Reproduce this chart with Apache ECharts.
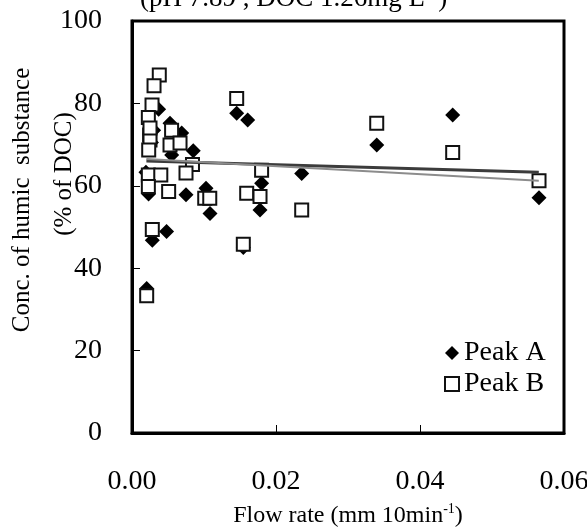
<!DOCTYPE html>
<html>
<head>
<meta charset="utf-8">
<script src="https://cdn.jsdelivr.net/npm/echarts@6/dist/echarts.min.js"></script>
<style>html,body{margin:0;padding:0;background:#fff;}#c{width:587px;height:529px;}</style>
</head>
<body>
<div id="c"></div>
<script>
// Peak A (filled diamonds)
var peakAFlow = [0.00204,0.00282,0.0048,0.00528,0.0069,0.00851,0.00551,0.0075,0.01028,0.01083,0.0037,0.00194,0.0023,0.01454,0.01607,0.018,0.01778,0.02357,0.03399,0.04454,0.05653,0.01546,0.0027,0.003];
var peakAConc = [35.1,46.8,48.9,75.2,72.8,68.5,67.5,57.8,59.4,53.3,78.6,63.3,58,77.6,76,60.6,54.1,63,69.9,77.2,57.1,45,70.5,73.5];
// Peak B (open squares)
var peakBFlow = [0.00379,0.00306,0.00278,0.00227,0.0055,0.00528,0.00667,0.0084,0.0075,0.00227,0.004,0.00227,0.00509,0.0101,0.0108,0.00282,0.00204,0.01454,0.03399,0.018,0.01593,0.01778,0.02357,0.01546,0.04454,0.05653,0.00245,0.0025,0.00232,0.0025];
var peakBConc = [86.9,84.3,79.6,76.6,73.5,69.9,70.4,65.2,63.1,62.6,62.6,59.8,58.6,57,57,49.4,33.3,81.2,75.2,63.8,58.2,57.4,54.1,45.8,68.1,61.2,72.3,71.1,68.7,74];
// trend lines (endpoints)
var trendAFlow = [0.002, 0.0565];
var trendAConc = [66.0, 63.3];
var trendBFlow = [0.002, 0.0565];
var trendBConc = [66.5, 61.2];
var xTicks = [0, 0.02, 0.04, 0.06];
var yTicks = [0, 20, 40, 60, 80, 100];

function pairs(xs, ys){ return xs.map(function(x,i){ return [x, ys[i]]; }); }
var FONT = "'Liberation Serif','Times New Roman',serif";
var chart = echarts.init(document.getElementById('c'), null, {renderer:'canvas'});
chart.setOption({
  animation:false,
  backgroundColor:'#fff',
  grid:{left:132,right:23,top:21,bottom:96,outerBoundsMode:'none',containLabel:false,show:true,borderColor:'#000',borderWidth:3,backgroundColor:'transparent'},
  xAxis:{type:'value',min:0,max:0.06,interval:0.02,
    axisLine:{show:true,lineStyle:{color:'#000',width:3}},
    axisTick:{show:true,inside:true,length:8,lineStyle:{color:'#000',width:1}},
    splitLine:{show:false},
    axisLabel:{margin:35,color:'#000',fontFamily:FONT,fontSize:28,formatter:function(v){return v.toFixed(2);}},
    name:'{a|Flow rate (mm 10min}{s|-1}{a|)}',nameLocation:'middle',nameGap:69,
    nameTextStyle:{rich:{a:{fontFamily:FONT,fontSize:24,color:'#000',lineHeight:28},s:{fontFamily:FONT,fontSize:14,color:'#000',lineHeight:28,verticalAlign:'top'}}}
  },
  yAxis:{type:'value',min:0,max:100,interval:20,
    axisLine:{show:true,lineStyle:{color:'#000',width:3}},
    axisTick:{show:true,inside:true,length:8,lineStyle:{color:'#000',width:1}},
    splitLine:{show:false},
    axisLabel:{margin:30,color:'#000',fontFamily:FONT,fontSize:28}
  },
  legend:{orient:'vertical',left:444,top:339,padding:0,itemWidth:14,itemHeight:14,itemGap:3,
    textStyle:{fontFamily:FONT,fontSize:28,color:'#000'},
    data:['Peak A','Peak B']},
  graphic:[
    {type:'text',x:22,y:200,rotation:Math.PI/2,style:{text:'Conc. of humic  substance',fontFamily:FONT,fontSize:25,fill:'#000',align:'center',verticalAlign:'middle'}},
    {type:'text',x:64,y:174,rotation:Math.PI/2,style:{text:'(% of DOC)',fontFamily:FONT,fontSize:25,fill:'#000',align:'center',verticalAlign:'middle'}},
    {type:'text',x:140,y:-1,style:{text:'{a|(pH 7.89 , DOC 1.26mg L}{s|-1}{a|)}',align:'left',verticalAlign:'middle',
      rich:{a:{fontFamily:FONT,fontSize:27,fill:'#000',lineHeight:32},s:{fontFamily:FONT,fontSize:16,fill:'#000',lineHeight:32,verticalAlign:'top'}}}}
  ],
  series:[
    {name:'Peak A',type:'scatter',data:pairs(peakAFlow,peakAConc),symbol:'diamond',symbolSize:15,
      itemStyle:{color:'#000',borderColor:'#000',borderWidth:0,opacity:1},z:2},
    {name:'Peak B',type:'scatter',data:pairs(peakBFlow,peakBConc),symbol:'rect',symbolSize:13,
      itemStyle:{color:'#fff',borderColor:'#111',borderWidth:2,opacity:1},z:3},
    {name:'trendA',type:'line',data:pairs(trendAFlow,trendAConc),symbol:'none',lineStyle:{color:'#3c3c3c',width:3},z:4,silent:true},
    {name:'trendB',type:'line',data:pairs(trendBFlow,trendBConc),symbol:'none',lineStyle:{color:'#8c8c8c',width:2},z:5,silent:true}
  ]
});
</script>
</body>
</html>
